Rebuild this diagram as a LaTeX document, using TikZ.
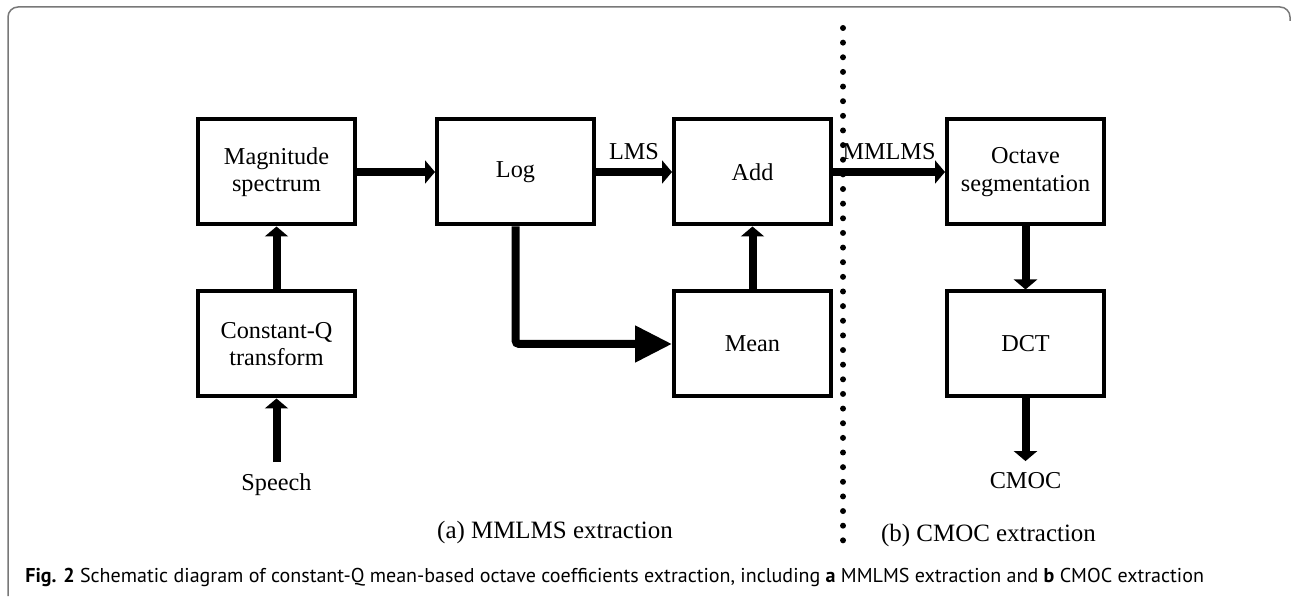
\documentclass[tikz,border=0pt]{standalone}
\usepackage{fontspec}
\usepackage{tikz}
\usetikzlibrary{arrows.meta, positioning}
\setmainfont{Liberation Serif}
\newfontfamily\capfont{PT Sans}
\definecolor{framegray}{RGB}{120,120,120}

\begin{document}
\begin{tikzpicture}[
    box/.style={draw, line width=0.08cm, minimum width=3.14cm, minimum height=2.1cm, inner sep=0pt, font=\fontsize{13.8}{15.6}\selectfont, align=center},
    io/.style={font=\fontsize{13.8}{15.6}\selectfont, inner sep=6.5pt},
    arrow/.style={-{Triangle[length=0.2cm, width=0.46cm]}, line width=0.16cm},
    bigarrow/.style={-{Triangle[length=0.74cm, width=0.7cm]}, line width=0.16cm, rounded corners=2pt}
]
    \useasboundingbox (0,0) rectangle (25.84,11.92);

    % Frame
    \draw[framegray, line width=0.03cm, rounded corners=0.2cm] (0.16,0) -- (0.16,11.78) -- (25.8,11.78) -- (25.8,11.5);

    % MMLMS extraction
    \node[box] (mag) at (5.53,8.48) {Magnitude\\spectrum};
    \node[box] (cqt) at (5.53,5.04) {Constant-Q\\transform};
    \node[box] (log) at (10.31,8.48) {Log};
    \node[box] (add) at (15.05,8.48) {Add};
    \node[box] (mean) at (15.05,5.04) {Mean};
    \node[io] (speech) at (5.53,2.22) {Speech};

    % CMOC extraction
    \node[box] (oct) at (20.51,8.48) {Octave\\segmentation};
    \node[box] (dct) at (20.51,5.04) {DCT};
    \node[io] (cmoc) at (20.51,2.3) {CMOC};

    % Separator
    \draw[line width=3.4pt, line cap=round, dash pattern=on 0pt off 8.33pt] (16.86,11.36) -- (16.86,1.06);

    % Arrows
    \draw[arrow] (speech) -- (cqt);
    \draw[arrow] (cqt) -- (mag);
    \draw[arrow] (mag) -- (log);
    \draw[arrow] (log) -- node[above=1.5pt, font=\fontsize{13.8}{15.6}\selectfont] {LMS} (add);
    \draw[bigarrow] (log.south) |- (mean.west);
    \draw[arrow] (mean) -- (add);
    \draw[arrow] (add) -- node[above=1.5pt, font=\fontsize{13.8}{15.6}\selectfont] {MMLMS} (oct);
    \draw[arrow] (oct) -- (dct);
    \draw[arrow] (dct) -- (cmoc);

    % Sub-captions
    \node[font=\fontsize{14.2}{16}\selectfont] (capa) at (11.1,1.28) {(a)\ MMLMS extraction};
    \node[font=\fontsize{14.2}{16}\selectfont] (capb) at (19.77,1.22) {(b)\ CMOC extraction};
    \node[anchor=west, inner sep=0pt, font=\capfont\fontsize{11.4}{13}\selectfont] (caption) at (0.5,0.38)
        {\textbf{Fig. 2} Schematic diagram of constant-Q mean-based octave coefficients extraction, including \textbf{a} MMLMS extraction and \textbf{b} CMOC extraction};
\end{tikzpicture}
\end{document}
